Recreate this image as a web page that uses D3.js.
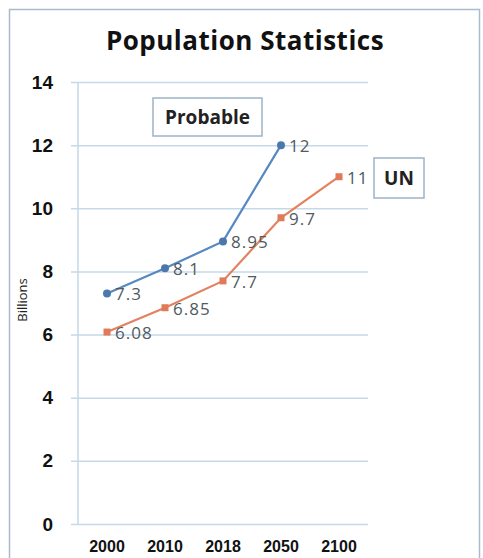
<!DOCTYPE html>
<html>
<head>
<meta charset="utf-8">
<script src="https://cdn.jsdelivr.net/npm/d3@7"></script>
<style>
  body { margin: 0; background: #fff; }
  svg { display: block; font-family: 'Open Sans', Lato, sans-serif; }
</style>
</head>
<body>
<div id="chart"></div>
<script>
// Data
const years = ['2000', '2010', '2018', '2050', '2100'];
const probable = [7.3, 8.1, 8.95, 12];
const un = [6.08, 6.85, 7.7, 9.7, 11];
const yTicks = [0, 2, 4, 6, 8, 10, 12, 14];

const width = 483;
const height = 558;
const plot = { left: 78, right: 368, top: 82, bottom: 524 };

const svg = d3
  .select('#chart')
  .append('svg')
  .attr('width', width)
  .attr('height', height);

// outer frame
svg
  .append('rect')
  .attr('x', 9.5)
  .attr('y', 9.5)
  .attr('width', 470)
  .attr('height', 560)
  .attr('fill', '#fff')
  .attr('stroke', '#a9bccf')
  .attr('stroke-width', 1.5);

svg
  .append('text')
  .attr('x', 245)
  .attr('y', 50)
  .attr('text-anchor', 'middle')
  .style('font-weight', 'bold')
  .style('font-size', '26px')
  .style('letter-spacing', '0.5px')
  .style('fill', '#111')
  .text('Population Statistics');

// Scales
const x = d3.scaleBand().domain(years).range([plot.left, plot.right]);
const y = d3.scaleLinear().domain([0, 14]).range([plot.bottom, plot.top]);

// Gridlines / y-axis
const yAxis = svg
  .append('g')
  .attr('transform', `translate(${plot.left}, 0)`)
  .call(
    d3
      .axisLeft(y)
      .tickValues(yTicks)
      .tickSize(-(plot.right - plot.left))
      .tickSizeOuter(0)
  );
yAxis.select('.domain').remove();
yAxis
  .selectAll('.tick line')
  .attr('x1', -7)
  .attr('stroke', '#c6d9ea')
  .attr('stroke-width', 1.5);
yAxis
  .selectAll('.tick text')
  .style('font-size', '19px')
  .style('font-weight', 'bold')
  .style('fill', '#111')
  .attr('x', -25);

svg
  .append('line')
  .attr('x1', plot.left)
  .attr('x2', plot.left)
  .attr('y1', plot.top)
  .attr('y2', plot.bottom)
  .attr('stroke', '#c6d9ea')
  .attr('stroke-width', 1.5);

// x-axis labels
const xAxis = svg
  .append('g')
  .attr('transform', `translate(0, ${plot.bottom})`)
  .call(d3.axisBottom(x).tickSize(0).tickPadding(17));
xAxis.select('.domain').remove();
xAxis
  .selectAll('.tick text')
  .style('font-size', '16px')
  .style('font-weight', 'bold')
  .style('fill', '#111');

svg
  .append('text')
  .attr('transform', 'translate(27, 300) rotate(-90)')
  .attr('text-anchor', 'middle')
  .style('font-size', '13px')
  .style('fill', '#222')
  .text('Billions');

const cx = (i) => x(years[i]) + x.bandwidth() / 2;

const line = d3
  .line()
  .x((d, i) => cx(i))
  .y((d) => y(d));

// UN series
svg
  .append('path')
  .datum(un)
  .attr('d', line)
  .attr('fill', 'none')
  .attr('stroke', '#e2825f')
  .attr('stroke-width', 2.2);
svg
  .selectAll('.un-pt')
  .data(un)
  .enter()
  .append('rect')
  .attr('class', 'un-pt')
  .attr('x', (d, i) => cx(i) - 3.5)
  .attr('y', (d) => y(d) - 3.5)
  .attr('width', 7)
  .attr('height', 7)
  .attr('fill', '#e07a58');

// Probable series
svg
  .append('path')
  .datum(probable)
  .attr('d', line)
  .attr('fill', 'none')
  .attr('stroke', '#5688c2')
  .attr('stroke-width', 2.2);
svg
  .selectAll('.pr-pt')
  .data(probable)
  .enter()
  .append('circle')
  .attr('class', 'pr-pt')
  .attr('cx', (d, i) => cx(i))
  .attr('cy', (d) => y(d))
  .attr('r', 4)
  .attr('fill', '#4a78ad');

// data labels
const labelStyle = (sel) =>
  sel
    .attr('dy', '0.35em')
    .style('font-size', '17px')
    .style('letter-spacing', '1px')
    .style('fill', '#505a60');

svg
  .selectAll('.pr-lbl')
  .data(probable)
  .enter()
  .append('text')
  .attr('x', (d, i) => cx(i) + 8)
  .attr('y', (d) => y(d) + 1)
  .text((d) => d)
  .call(labelStyle);

svg
  .selectAll('.un-lbl')
  .data(un)
  .enter()
  .append('text')
  .attr('x', (d, i) => cx(i) + 8)
  .attr('y', (d) => y(d) + 1)
  .text((d) => d)
  .call(labelStyle);

// series boxes
const box = (bx, by, bw, bh, label) => {
  svg
    .append('rect')
    .attr('x', bx)
    .attr('y', by)
    .attr('width', bw)
    .attr('height', bh)
    .attr('fill', '#fff')
    .attr('stroke', '#9fb3c6')
    .attr('stroke-width', 1.5);
  svg
    .append('text')
    .attr('x', bx + bw / 2)
    .attr('y', by + bh / 2)
    .attr('dy', '0.35em')
    .attr('text-anchor', 'middle')
    .style('font-size', '19px')
    .style('font-weight', 'bold')
    .style('fill', '#222')
    .text(label);
};
box(153, 98, 109, 38, 'Probable');
box(374, 158, 50, 40, 'UN');
</script>
</body>
</html>
